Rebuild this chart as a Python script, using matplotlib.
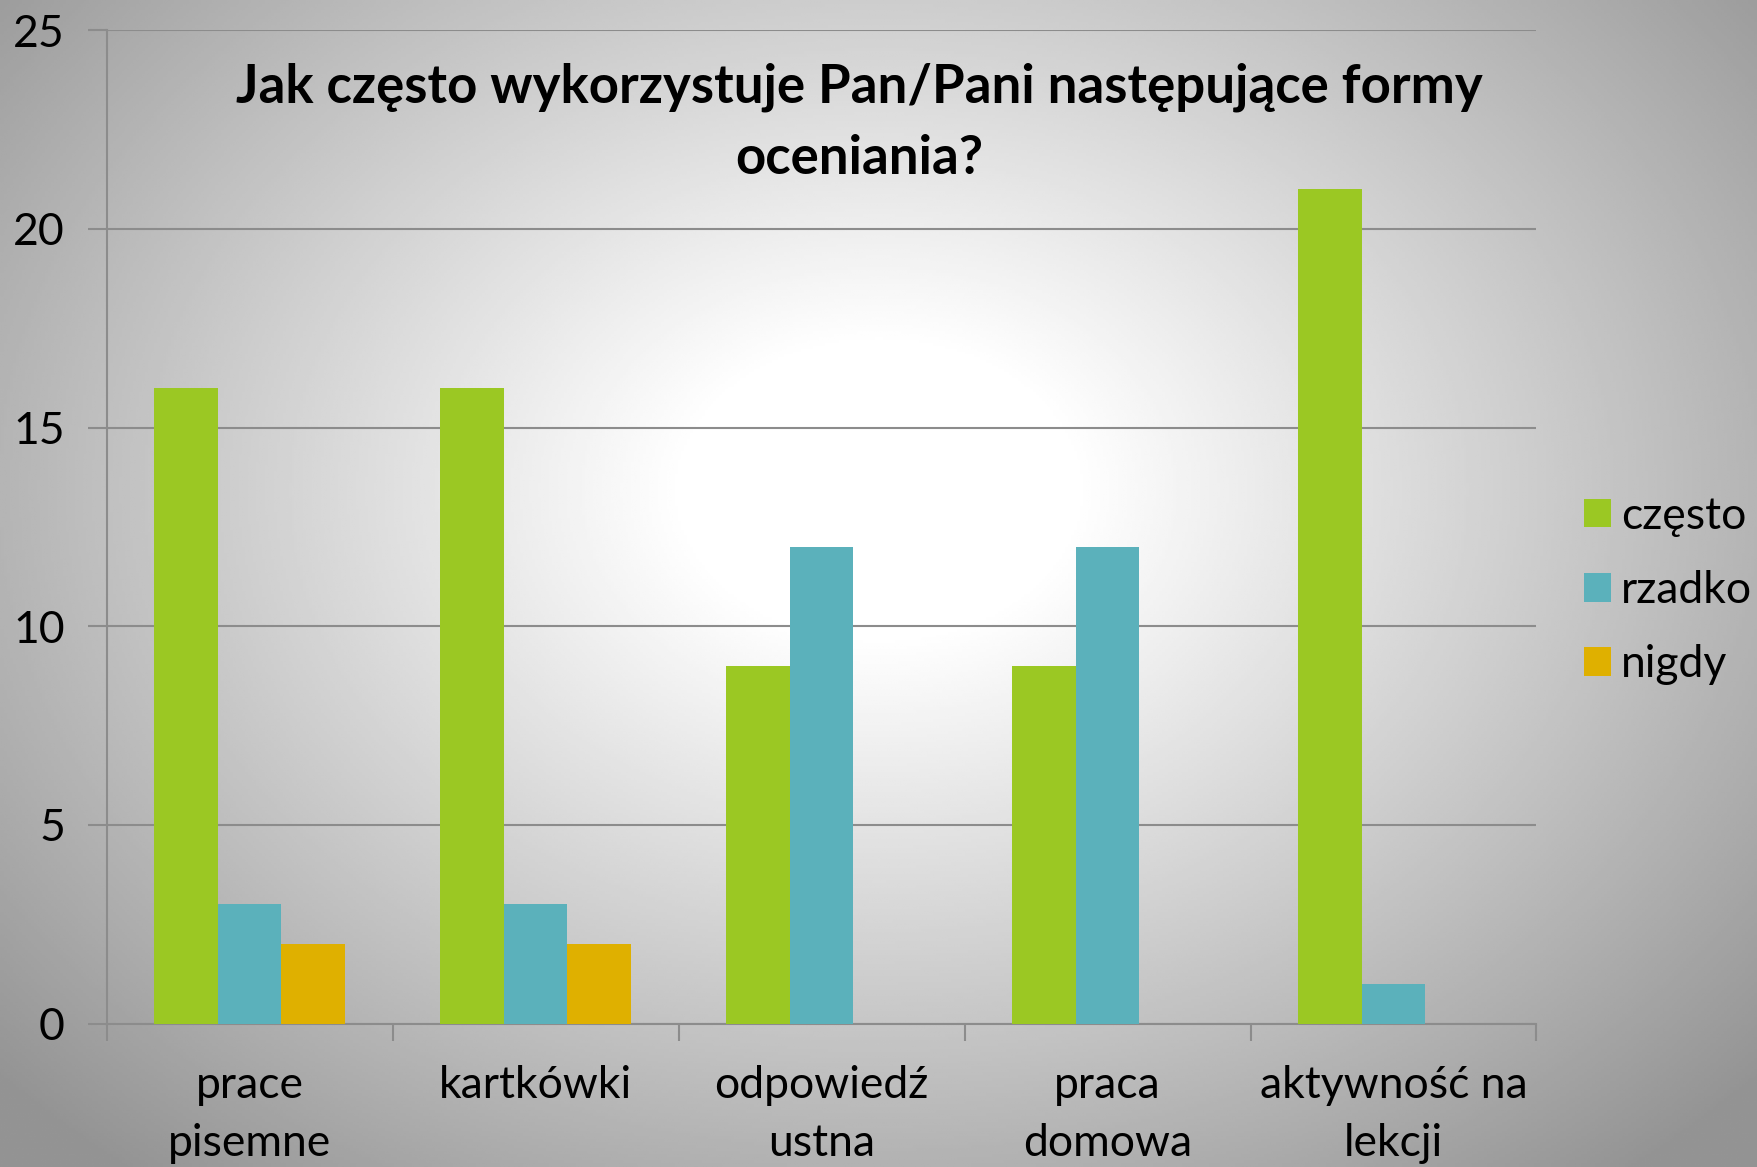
import numpy as np
import matplotlib
matplotlib.use("Agg")
import matplotlib.pyplot as plt
from matplotlib.patches import Patch

plt.rcParams["font.family"] = ["Lato", "DejaVu Sans"]

categories = ["prace\npisemne", "kartkówki", "odpowiedź\nustna", "praca\ndomowa", "aktywność na\nlekcji"]
series_names = ["często", "rzadko", "nigdy"]
czesto = [16, 16, 9, 9, 21]
rzadko = [3, 3, 12, 12, 1]
nigdy = [2, 2, 0, 0, 0]
colors = ["#9BC823", "#5BB1BB", "#DFB000"]
title = "Jak często wykorzystuje Pan/Pani następujące formy\noceniania?"

fig = plt.figure(figsize=(17.58, 11.67), dpi=100)

# radial grey background
bg = fig.add_axes([0, 0, 1, 1], zorder=-10)
yy, xx = np.mgrid[0:1:400j, 0:1:600j]
r = np.sqrt(((xx - 0.5) / 0.62) ** 2 + ((yy - 0.42) / 0.70) ** 2)
shade = np.clip(1.0 - 0.42 * np.clip(r - 0.18, 0, None) / 0.9, 0.58, 1.0)
bg.imshow(shade, cmap="gray", vmin=0, vmax=1, aspect="auto", extent=[0, 1, 1, 0])
bg.set_axis_off()

ax = fig.add_axes([0.0606, 0.1229, 0.8134, 0.8511])
ax.patch.set_alpha(0)

x = np.arange(len(categories))
w = 1 / 4.5
for i, (vals, name) in enumerate(zip([czesto, rzadko, nigdy], series_names)):
    ax.bar(x + (i - 1) * w, vals, width=w, color=colors[i], label=name, zorder=3)

grid_c = "#8C8C8C"
ax.set_ylim(0, 25)
ax.set_xlim(-0.5, len(categories) - 0.5)
ax.set_yticks([0, 5, 10, 15, 20, 25])
ax.yaxis.grid(True, color=grid_c, linewidth=1.5, zorder=1)
ax.set_axisbelow(True)
for s in ["top", "right"]:
    ax.spines[s].set_visible(False)
for s in ["left", "bottom"]:
    ax.spines[s].set_color(grid_c)
    ax.spines[s].set_linewidth(1.5)

ax.set_xticks(x)
ax.set_xticklabels(categories, linespacing=1.5)
ax.set_xticks(np.arange(-0.5, len(categories)), minor=True)
ax.tick_params(axis="x", which="major", length=0, pad=30, labelsize=32)
ax.tick_params(axis="x", which="minor", length=12, width=1.5, color=grid_c, direction="out")
ax.tick_params(axis="y", length=14, width=1.5, color=grid_c, pad=16, labelsize=32)

fig.text(0.489, 0.895, title, ha="center", va="center", fontsize=38,
         fontweight="bold", linespacing=1.55)

handles = [Patch(facecolor=c, label=n) for c, n in zip(colors, series_names)]
fig.legend(handles=handles, loc="center left", bbox_to_anchor=(0.8885, 0.494),
           frameon=False, fontsize=32, handlelength=0.61, handleheight=0.61,
           handletextpad=0.22, labelspacing=0.75, borderpad=0)

fig.savefig("out.png", dpi=100)
